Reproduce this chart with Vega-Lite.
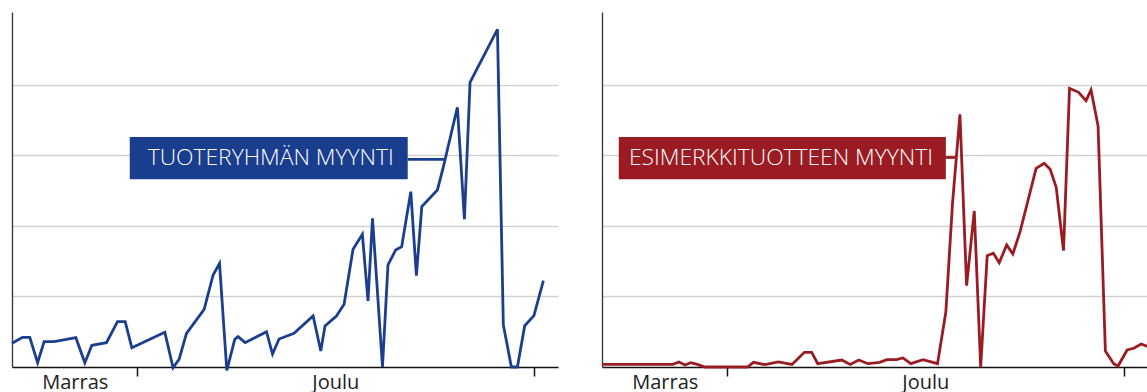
{
  "$schema": "https://vega.github.io/schema/vega-lite/v6.json",
  "padding": {"left": 6, "top": 12, "right": 0, "bottom": 0},
  "background": "white",
  "spacing": 44,
  "bounds": "flush",
  "config": {
    "view": {"stroke": null},
    "font": "Open Sans",
    "axisX": {
      "title": null,
      "grid": false,
      "domainColor": "#111",
      "domainWidth": 1.5,
      "tickSize": 9,
      "tickWidth": 1.5,
      "labelFont": "Open Sans",
      "labelFontSize": 20,
      "labelColor": "#222",
      "labelBaseline": "alphabetic",
      "labelPadding": 12.5,
      "labelFlush": false,
      "labelOverlap": false
    },
    "axisY": {
      "title": null,
      "grid": true,
      "gridColor": "#d2d2d2",
      "gridWidth": 1.3,
      "domainColor": "#333",
      "domainWidth": 1.3,
      "ticks": false,
      "labels": false,
      "minExtent": 0,
      "maxExtent": 0,
      "offset": 0
    }
  },
  "datasets": {
    "group": [
      {"t": -9.75, "v": 33.6}, {"t": -8.93, "v": 42.1}, {"t": -8.36, "v": 42.1}, {"t": -7.75, "v": 6.1},
      {"t": -7.24, "v": 35.9}, {"t": -6.46, "v": 35.9}, {"t": -4.76, "v": 41.6}, {"t": -4.06, "v": 6.1},
      {"t": -3.51, "v": 30.8}, {"t": -2.37, "v": 34.5}, {"t": -1.51, "v": 64.3}, {"t": -0.91, "v": 64.3},
      {"t": -0.39, "v": 27.4}, {"t": 2.19, "v": 49.2}, {"t": 2.83, "v": -1}, {"t": 3.30, "v": 10.9},
      {"t": 3.88, "v": 47.8}, {"t": 5.26, "v": 81.8}, {"t": 5.96, "v": 130.5}, {"t": 6.46, "v": 147.1},
      {"t": 7.03, "v": -5}, {"t": 7.65, "v": 39.3}, {"t": 7.91, "v": 43}, {"t": 8.46, "v": 34.5},
      {"t": 10.13, "v": 50.1}, {"t": 10.60, "v": 18.4}, {"t": 11.11, "v": 39.7}, {"t": 12.28, "v": 47.8},
      {"t": 13.77, "v": 72.3}, {"t": 14.37, "v": 22.7}, {"t": 14.70, "v": 58.2}, {"t": 15.59, "v": 72.3},
      {"t": 16.19, "v": 88.9}, {"t": 16.89, "v": 167}, {"t": 17.62, "v": 188.2}, {"t": 18.06, "v": 93.6},
      {"t": 18.41, "v": 210.9}, {"t": 19.19, "v": 0}, {"t": 19.62, "v": 144.7}, {"t": 20.22, "v": 166},
      {"t": 20.69, "v": 170.6}, {"t": 21.40, "v": 248.7}, {"t": 21.84, "v": 129.5}, {"t": 22.26, "v": 227.4},
      {"t": 23.48, "v": 251.1}, {"t": 23.95, "v": 284.1}, {"t": 25.04, "v": 368.4}, {"t": 25.59, "v": 209.5},
      {"t": 26.03, "v": 403.8}, {"t": 28.17, "v": 479}, {"t": 28.63, "v": 59.6}, {"t": 29.26, "v": 0},
      {"t": 29.73, "v": 0}, {"t": 30.30, "v": 58.6}, {"t": 31.02, "v": 72.8}, {"t": 31.76, "v": 122.4}
    ],
    "product": [
      {"t": -9.75, "v": 3.7}, {"t": -4.21, "v": 3.7}, {"t": -3.74, "v": 7.1}, {"t": -3.27, "v": 2.8},
      {"t": -2.82, "v": 6.1}, {"t": -2.30, "v": 3.7}, {"t": -1.70, "v": 0}, {"t": 1.61, "v": 0},
      {"t": 2.08, "v": 6.6}, {"t": 2.98, "v": 3.3}, {"t": 4.02, "v": 7.1}, {"t": 5.09, "v": 3.7},
      {"t": 6.06, "v": 20.8}, {"t": 6.63, "v": 20.8}, {"t": 7.10, "v": 4.7}, {"t": 8.98, "v": 9.9},
      {"t": 9.64, "v": 3.7}, {"t": 10.31, "v": 9.9}, {"t": 11.02, "v": 4.7}, {"t": 11.94, "v": 6.6},
      {"t": 12.51, "v": 10.4}, {"t": 13.24, "v": 10.4}, {"t": 13.76, "v": 12.8}, {"t": 14.37, "v": 4.7},
      {"t": 15.33, "v": 10.4}, {"t": 16.46, "v": 4.7}, {"t": 17.11, "v": 78.4}, {"t": 17.63, "v": 232},
      {"t": 18.21, "v": 358.4}, {"t": 18.73, "v": 115.3}, {"t": 19.33, "v": 221.3}, {"t": 19.83, "v": 0},
      {"t": 20.34, "v": 157.9}, {"t": 20.82, "v": 161.3}, {"t": 21.28, "v": 148}, {"t": 21.86, "v": 173},
      {"t": 22.34, "v": 160.3}, {"t": 22.91, "v": 191.9}, {"t": 24.16, "v": 281.7}, {"t": 24.79, "v": 288.9},
      {"t": 25.26, "v": 280.3}, {"t": 25.73, "v": 254.9}, {"t": 26.30, "v": 165}, {"t": 26.77, "v": 395.3},
      {"t": 27.48, "v": 389.6}, {"t": 28.06, "v": 377.7}, {"t": 28.45, "v": 392.9}, {"t": 29.00, "v": 341.8},
      {"t": 29.57, "v": 22.7}, {"t": 30.22, "v": 4.7}, {"t": 30.56, "v": 1.4}, {"t": 31.27, "v": 24.1},
      {"t": 31.79, "v": 26.5}, {"t": 32.37, "v": 32.6}, {"t": 32.9, "v": 28.8}
    ],
    "labelGroup": [
      {"bx1": -0.55, "bx2": 21.16, "by1": 266.2, "by2": 326.2, "cx1": 21.16, "cx2": 23.99, "cy": 294.6, "tx": 10.46, "ty": 296.5, "label": "TUOTERYHMÄN MYYNTI"}
    ],
    "labelProduct": [
      {"bx1": -8.44, "bx2": 17.11, "by1": 266.2, "by2": 326.2, "cx1": 17.11, "cx2": 17.89, "cy": 297.2, "tx": 4.23, "ty": 296.5, "label": "ESIMERKKITUOTTEEN MYYNTI"}
    ]
  },
  "hconcat": [
    {
      "width": 546,
      "height": 355,
      "layer": [
        {
          "data": {"name": "group"},
          "mark": {"type": "line", "color": "#1b3f8e", "strokeWidth": 2.8, "strokeJoin": "miter", "clip": false},
          "encoding": {
            "x": {"field": "t", "type": "quantitative", "scale": {"domain": [-9.75, 32.9], "nice": false, "zero": false},
              "axis": {"values": [-4.85, 0, 15.5, 31],
                "labelExpr": "datum.value == -4.85 ? 'Marras' : datum.value == 15.5 ? 'Joulu' : ''",
                "tickColor": {"condition": {"test": "datum.value == 0 || datum.value == 31", "value": "#111"}, "value": "transparent"}}},
            "y": {"field": "v", "type": "quantitative", "scale": {"domain": [0, 503.5], "nice": false, "zero": false},
              "axis": {"values": [100, 200, 300, 400]}}
          }
        },
        {
          "data": {"name": "labelGroup"},
          "layer": [
            {"mark": {"type": "rule", "color": "#1b3f8e", "strokeWidth": 2.8},
             "encoding": {"x": {"field": "cx1", "type": "quantitative"}, "x2": {"field": "cx2"}, "y": {"field": "cy", "type": "quantitative"}}},
            {"mark": {"type": "rect", "color": "#1a3e8e"},
             "encoding": {"x": {"field": "bx1", "type": "quantitative"}, "x2": {"field": "bx2"}, "y": {"field": "by1", "type": "quantitative"}, "y2": {"field": "by2"}}},
            {"mark": {"type": "text", "color": "white", "font": "Open Sans", "fontSize": 22.8, "fontWeight": 300, "align": "center", "baseline": "middle"},
             "encoding": {"x": {"field": "tx", "type": "quantitative"}, "y": {"field": "ty", "type": "quantitative"}, "text": {"field": "label"}}}
          ]
        }
      ]
    },
    {
      "width": 546,
      "height": 355,
      "layer": [
        {
          "data": {"name": "product"},
          "mark": {"type": "line", "color": "#9a1c22", "strokeWidth": 2.8, "strokeJoin": "miter", "clip": false},
          "encoding": {
            "x": {"field": "t", "type": "quantitative", "scale": {"domain": [-9.75, 32.9], "nice": false, "zero": false},
              "axis": {"values": [-4.85, 0, 15.5, 31],
                "labelExpr": "datum.value == -4.85 ? 'Marras' : datum.value == 15.5 ? 'Joulu' : ''",
                "tickColor": {"condition": {"test": "datum.value == 0 || datum.value == 31", "value": "#111"}, "value": "transparent"}}},
            "y": {"field": "v", "type": "quantitative", "scale": {"domain": [0, 503.5], "nice": false, "zero": false},
              "axis": {"values": [100, 200, 300, 400]}}
          }
        },
        {
          "data": {"name": "labelProduct"},
          "layer": [
            {"mark": {"type": "rule", "color": "#9a1c22", "strokeWidth": 2.8},
             "encoding": {"x": {"field": "cx1", "type": "quantitative"}, "x2": {"field": "cx2"}, "y": {"field": "cy", "type": "quantitative"}}},
            {"mark": {"type": "rect", "color": "#9a1c22"},
             "encoding": {"x": {"field": "bx1", "type": "quantitative"}, "x2": {"field": "bx2"}, "y": {"field": "by1", "type": "quantitative"}, "y2": {"field": "by2"}}},
            {"mark": {"type": "text", "color": "white", "font": "Open Sans", "fontSize": 22.8, "fontWeight": 300, "align": "center", "baseline": "middle"},
             "encoding": {"x": {"field": "tx", "type": "quantitative"}, "y": {"field": "ty", "type": "quantitative"}, "text": {"field": "label"}}}
          ]
        }
      ]
    }
  ]
}
